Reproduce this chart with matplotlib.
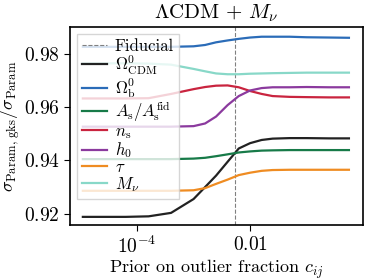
import matplotlib
matplotlib.use("Agg")
import matplotlib.pyplot as plt

plt.rcParams['font.family'] = 'serif'
plt.rcParams['font.serif'] = ['cmr10']
plt.rcParams['mathtext.fontset'] = 'cm'
plt.rcParams['axes.formatter.use_mathtext'] = True

# prior on outlier fraction
c_ij = [1.1e-5, 2.5e-5, 6.3e-5, 1.6e-4, 4e-4, 1e-3, 1.6e-3, 2.5e-3, 4e-3,
        6.3e-3, 1e-2, 1.6e-2, 2.5e-2, 5e-2, 0.1, 0.25, 0.56]
fiducial = 0.0055

om_cdm = [0.9188, 0.9188, 0.9188, 0.9190, 0.9203, 0.9255, 0.9300, 0.9343, 0.9395,
          0.9445, 0.9465, 0.9477, 0.9482, 0.9484, 0.9484, 0.9483, 0.9483]
om_b = [0.9827, 0.9827, 0.9827, 0.9827, 0.9827, 0.9829, 0.9834, 0.9844, 0.9851,
        0.9857, 0.9862, 0.9865, 0.9865, 0.9865, 0.9863, 0.9862, 0.9861]
a_s = [0.9405, 0.9405, 0.9405, 0.9405, 0.9405, 0.9407, 0.9410, 0.9416, 0.9423,
       0.9430, 0.9434, 0.9437, 0.9438, 0.9439, 0.9439, 0.9439, 0.9439]
n_s = [0.9633, 0.9633, 0.9633, 0.9634, 0.9650, 0.9668, 0.9676, 0.9681, 0.9682,
       0.9675, 0.9661, 0.9650, 0.9642, 0.9639, 0.9638, 0.9637, 0.9637]
h_0 = [0.9527, 0.9527, 0.9527, 0.9527, 0.9527, 0.9529, 0.9539, 0.9565, 0.9608,
       0.9642, 0.9663, 0.9672, 0.9675, 0.9675, 0.9676, 0.9675, 0.9675]
tau = [0.9286, 0.9286, 0.9286, 0.9286, 0.9286, 0.9288, 0.9296, 0.9312, 0.9328,
       0.9345, 0.9354, 0.9361, 0.9364, 0.9365, 0.9365, 0.9365, 0.9365]
m_nu = [0.9765, 0.9765, 0.9765, 0.9764, 0.9760, 0.9744, 0.9735, 0.9727, 0.9724,
        0.9724, 0.9726, 0.9727, 0.9728, 0.9729, 0.9730, 0.9730, 0.9730]

fig = plt.figure(figsize=(3.74, 2.8), dpi=100)
ax = fig.add_axes([0.187, 0.196, 0.784, 0.708])

ax.axvline(fiducial, ls='--', color='grey', lw=0.8, label='Fiducial')
ax.plot(c_ij, om_cdm, color='#222222', lw=1.6, label=r'$\Omega^0_{\rm CDM}$')
ax.plot(c_ij, om_b, color='#2b6cb8', lw=1.6, label=r'$\Omega^0_{\rm b}$')
ax.plot(c_ij, a_s, color='#177a48', lw=1.6, label=r'$A_{\rm s}/A_{\rm s}^{\rm fid}$')
ax.plot(c_ij, n_s, color='#c9243f', lw=1.6, label=r'$n_{\rm s}$')
ax.plot(c_ij, h_0, color='#8b3a9e', lw=1.6, label=r'$h_0$')
ax.plot(c_ij, tau, color='#ef8c22', lw=1.6, label=r'$\tau$')
ax.plot(c_ij, m_nu, color='#88d8c8', lw=1.6, label=r'$M_\nu$')

ax.set_xscale('log')
ax.set_xlim(6.5e-6, 1.0)
ax.set_ylim(0.9157, 0.9902)
ax.set_xticks([1e-4, 1e-2])
ax.set_xticklabels([r'$10^{-4}$', r'$0.01$'])
ax.minorticks_off()
ax.set_yticks([0.92, 0.94, 0.96, 0.98])
ax.tick_params(labelsize=14, direction='out', length=4)
for s in ax.spines.values():
    s.set_linewidth(1.2)

ax.set_xlabel(r'Prior on outlier fraction $c_{ij}$', fontsize=13, labelpad=1)
ax.set_ylabel(r'$\sigma_{\rm Param,\,gks}/\sigma_{\rm Param}$', fontsize=13, labelpad=1)
ax.set_title(r'$\Lambda$CDM + $M_\nu$', fontsize=15, pad=6)

ax.legend(loc='upper left', fontsize=12, handlelength=1.5, labelspacing=-0.02,
          borderpad=0.3, borderaxespad=0.4, handletextpad=0.5,
          framealpha=0.8, fancybox=False)

fig.savefig('out.png', dpi=100)
